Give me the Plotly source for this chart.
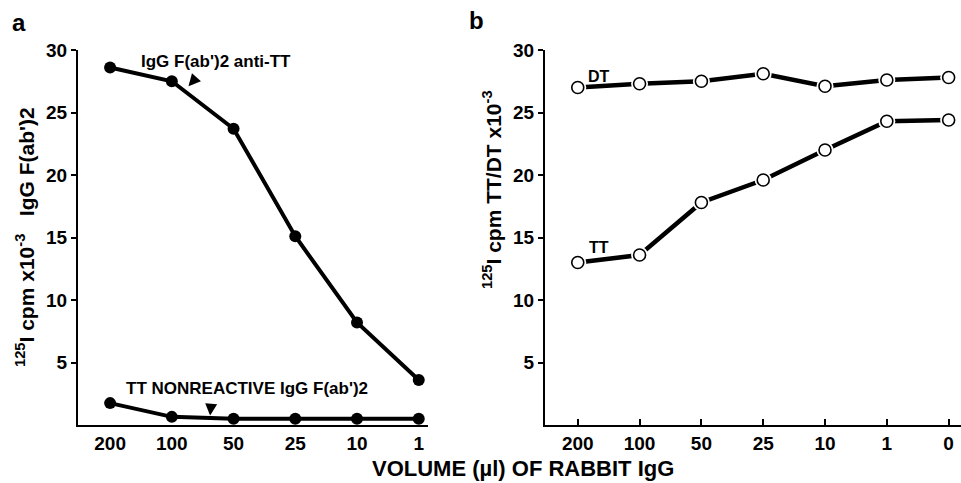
import plotly.graph_objects as go

# ---- data ----
cats_a = ["200", "100", "50", "25", "10", "1"]
anti_tt = [28.6, 27.5, 23.7, 15.1, 8.2, 3.6]
nonreactive = [1.75, 0.65, 0.5, 0.5, 0.5, 0.5]

cats_b = ["200", "100", "50", "25", "10", "1", "0"]
dt_vals = [27.0, 27.3, 27.5, 28.1, 27.1, 27.6, 27.8]
tt_vals = [13.0, 13.6, 17.8, 19.6, 22.0, 24.3, 24.4]

y_ticks = [5, 10, 15, 20, 25, 30]

FONT = "Liberation Sans"
W, H = 961, 483

fig = go.Figure()

# panel a
for ys in (anti_tt, nonreactive):
    fig.add_trace(go.Scatter(
        x=cats_a, y=ys, mode="lines+markers", xaxis="x", yaxis="y",
        line=dict(color="black", width=4),
        marker=dict(color="black", size=12),
        cliponaxis=False, showlegend=False, hoverinfo="skip"))

# panel b
for ys in (dt_vals, tt_vals):
    fig.add_trace(go.Scatter(
        x=cats_b, y=ys, mode="lines", xaxis="x2", yaxis="y2",
        line=dict(color="black", width=4.5),
        cliponaxis=False, showlegend=False, hoverinfo="skip"))
    fig.add_trace(go.Scatter(
        x=cats_b, y=ys, mode="markers", xaxis="x2", yaxis="y2",
        marker=dict(color="white", size=17, line=dict(width=0)),
        cliponaxis=False, showlegend=False, hoverinfo="skip"))
    fig.add_trace(go.Scatter(
        x=cats_b, y=ys, mode="markers", xaxis="x2", yaxis="y2",
        marker=dict(color="white", size=12, line=dict(color="black", width=1.6)),
        cliponaxis=False, showlegend=False, hoverinfo="skip"))

tickfont = dict(family=FONT, size=19, color="black", weight="bold")

def px_x(p):
    return p / W

def px_y(p):
    return (H - p) / H

ydom = [px_y(425), px_y(50)]

fig.update_layout(
    width=W, height=H,
    margin=dict(l=0, r=0, t=0, b=0, autoexpand=False),
    paper_bgcolor="white", plot_bgcolor="white",
    xaxis=dict(domain=[px_x(78), px_x(428)], type="category",
               range=[-0.52, 5.15], showgrid=False, zeroline=False,
               showline=True, linecolor="black", linewidth=2,
               ticks="", tickfont=tickfont, anchor="y", automargin=False),
    yaxis=dict(domain=ydom, range=[0, 30], tickvals=y_ticks,
               showgrid=False, zeroline=False, showline=True,
               linecolor="black", linewidth=2, ticks="outside",
               ticklen=5, tickwidth=2, tickcolor="black",
               tickfont=tickfont, anchor="x", automargin=False),
    xaxis2=dict(domain=[px_x(545), 1.0], type="category",
                range=[-0.53, 6.2], showgrid=False, zeroline=False,
                showline=True, linecolor="black", linewidth=2,
                ticks="inside", ticklen=6, tickwidth=2, tickcolor="black",
                tickfont=tickfont, anchor="y2", automargin=False),
    yaxis2=dict(domain=ydom, range=[0, 30], tickvals=y_ticks,
                showgrid=False, zeroline=False, showline=True,
                linecolor="black", linewidth=2, ticks="outside",
                ticklen=5, tickwidth=2, tickcolor="black",
                tickfont=tickfont, anchor="x2", automargin=False),
)

lab = dict(family=FONT, color="black")
C = dict(xanchor="center", yanchor="middle", showarrow=False)
ann = []
# panel letters
ann.append(dict(text="<b>a</b>", x=px_x(19), y=px_y(22), xref="paper", yref="paper",
                font=dict(size=24, **lab), **C))
ann.append(dict(text="<b>b</b>", x=px_x(476), y=px_y(20), xref="paper", yref="paper",
                font=dict(size=24, **lab), **C))
# series labels
ann.append(dict(text="<b>IgG F(ab')2 anti-TT</b>", x=1.72, y=29.1, xref="x", yref="y",
                font=dict(size=17, **lab), **C))
ann.append(dict(text="<b>TT NONREACTIVE IgG F(ab')2</b>", x=2.22, y=2.9, xref="x", yref="y",
                font=dict(size=17, **lab), **C))
ann.append(dict(text="<b>DT</b>", x=0.35, y=27.9, xref="x2", yref="y2",
                font=dict(size=16, **lab), **C))
ann.append(dict(text="<b>TT</b>", x=0.35, y=14.2, xref="x2", yref="y2",
                font=dict(size=16, **lab), **C))
# arrows
ann.append(dict(text="", x=1.27, y=27.1, xref="x", yref="y", ax=8, ay=-9,
                showarrow=True, arrowhead=2, arrowsize=0.8, arrowwidth=3, arrowcolor="black"))
ann.append(dict(text="", x=1.62, y=0.75, xref="x", yref="y", ax=1, ay=-11,
                showarrow=True, arrowhead=2, arrowsize=0.8, arrowwidth=3, arrowcolor="black"))
# axis titles
ann.append(dict(text="<b><sup>125</sup>I cpm x10<sup>-3</sup>   IgG F(ab')2</b>",
                x=px_x(25), y=px_y(237), xref="paper", yref="paper", textangle=-90,
                font=dict(size=21, **lab), **C))
ann.append(dict(text="<b><sup>125</sup>I cpm TT/DT x10<sup>-3</sup></b>",
                x=px_x(492), y=px_y(190), xref="paper", yref="paper", textangle=-90,
                font=dict(size=21, **lab), **C))
ann.append(dict(text="<b>VOLUME (µl) OF RABBIT IgG</b>",
                x=px_x(523), y=px_y(468), xref="paper", yref="paper",
                font=dict(size=22, **lab), **C))

fig.update_layout(annotations=ann)

fig.write_html("out.html", config={"displayModeBar": False},
               post_script="document.body.style.margin='0px';document.body.style.overflow='hidden';")
